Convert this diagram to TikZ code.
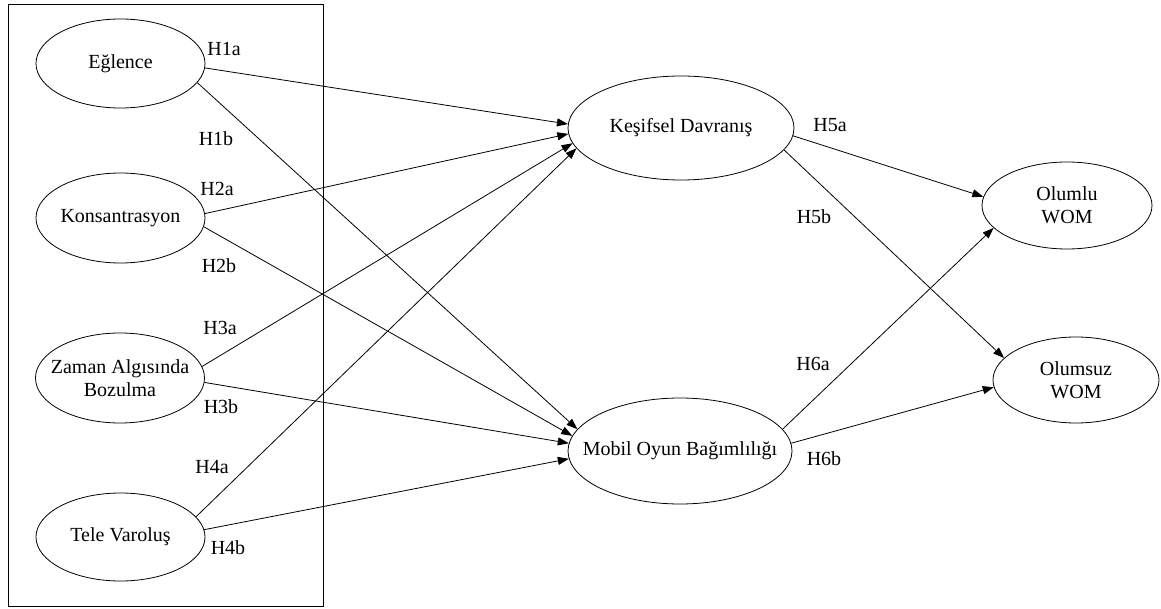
\documentclass[tikz,border=0pt]{standalone}
\usepackage{fontspec}
\setmainfont{Liberation Serif}
\usetikzlibrary{arrows.meta,shapes.geometric}

\begin{document}
\begin{tikzpicture}[x=1pt,y=-1pt,
	var/.style={draw,ellipse,line width=0.8pt,inner xsep=-40pt,inner ysep=-10pt,align=center,font=\fontsize{20}{23}\selectfont},
	hyp/.style={inner sep=0pt,font=\fontsize{20}{23}\selectfont},
	link/.style={-{Triangle[length=11pt,width=8pt]},line width=0.8pt}]
		\useasboundingbox (0,0) rectangle (1161,609);
		\draw[line width=0.8pt] (8,4) rectangle (323,606);
		% independent variables
		\node[var,minimum width=169pt,minimum height=89pt] (egl) at (120.5,63.5) {Eğlence};
		\node[var,minimum width=169pt,minimum height=90pt] (kon) at (120.5,218) {Konsantrasyon};
		\node[var,minimum width=169pt,minimum height=90pt] (zam) at (120,378) {Zaman Algısında\\Bozulma};
		\node[var,minimum width=169pt,minimum height=88pt] (tel) at (120.5,537) {Tele Varoluş};
		% mediators
		\node[var,minimum width=226pt,minimum height=104pt] (kes) at (681,128) {Keşifsel Davranış};
		\node[var,minimum width=224pt,minimum height=106pt] (mob) at (680,451) {Mobil Oyun Bağımlılığı};
		% outcomes
		\node[var,minimum width=170pt,minimum height=87pt] (olp) at (1067,205.5) {Olumlu\\WOM};
		\node[var,minimum width=166pt,minimum height=86pt] (oln) at (1076,380) {Olumsuz\\WOM};
		% paths
		\draw[link] (egl.-3) -- (kes.178);
		\draw[link] (egl.-14) -- (mob.168);
		\draw[link] (kon.3) -- (kes.183);
		\draw[link] (kon.-6) -- (mob.172);
		\draw[link] (zam.8) -- (kes.188);
		\draw[link] (zam.-3) -- (mob.176);
		\draw[link] (tel.15) -- (kes.191);
		\draw[link] (tel.5) -- (mob.184);
		\draw[link] (kes.-4) -- (olp.174);
		\draw[link] (kes.-12) -- (oln.163);
		\draw[link] (mob.12) -- (olp.197);
		\draw[link] (mob.4) -- (oln.185);
		% hypothesis labels
		\node[hyp] (h1a) at (224,49) {H1a};
		\node[hyp] (h1b) at (216,139) {H1b};
		\node[hyp] (h2a) at (217,189) {H2a};
		\node[hyp] (h2b) at (219,266) {H2b};
		\node[hyp] (h3a) at (220,328) {H3a};
		\node[hyp] (h3b) at (221,407) {H3b};
		\node[hyp] (h4a) at (212,467) {H4a};
		\node[hyp] (h4b) at (228,548) {H4b};
		\node[hyp] (h5a) at (830,125) {H5a};
		\node[hyp] (h5b) at (814,217) {H5b};
		\node[hyp] (h6a) at (813,364) {H6a};
		\node[hyp] (h6b) at (824,459) {H6b};
	\end{tikzpicture}
\end{document}
